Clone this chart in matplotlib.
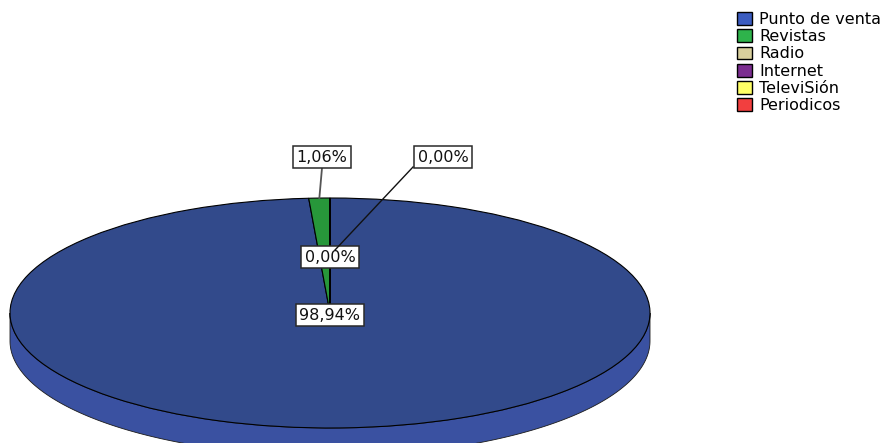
import numpy as np
import matplotlib
matplotlib.use('Agg')
import matplotlib.pyplot as plt
from matplotlib.patches import Patch, Polygon


# ----------------------------------------------------------------

categories = ['Punto de venta', 'Revistas', 'Radio', 'Internet', 'TeleviSión', 'Periodicos']
values = [98.94, 1.06, 0.0, 0.0, 0.0, 0.0]
label_text = ['98,94%', '1,06%', '0,00%', '0,00%']

pie_colors = ['#324a8b', '#27973a', '#cfc691', '#74287f', '#f2f25a', '#e33a3a']
legend_colors = ['#3b5cc0', '#2eb34b', '#d8cf9c', '#7b2d90', '#ffff66', '#f23f3f']
side_color = '#3a51a1'

W, H = 889, 443
cx, cy = 330, 313     # centre of the top face, pixels
rx, ry = 320, 115
depth = 28


# ----------------------------------------------------------------

fig = plt.figure(figsize=(W / 100, H / 100), dpi=100)

# pixel axes for labels and leader lines
ax = fig.add_axes([0, 0, 1, 1])
ax.set_xlim(0, W)
ax.set_ylim(H, 0)
ax.axis('off')
ax.set_zorder(2)
ax.patch.set_alpha(0)

# side of the disc (behind the top face)
bx = fig.add_axes([0, 0, 1, 1])
bx.set_xlim(0, W)
bx.set_ylim(H, 0)
bx.axis('off')
bx.set_zorder(0)
t = np.linspace(0, np.pi, 200)
top_x = cx + rx * np.cos(t)
top_y = cy + ry * np.sin(t)
side = np.concatenate([np.column_stack([top_x, top_y]),
                       np.column_stack([top_x[::-1], top_y[::-1] + depth])])
bx.add_patch(Polygon(side, closed=True, facecolor=side_color,
                     edgecolor='#1a1a1a', linewidth=0.6))

# top face: pie squeezed into an ellipse
pax = fig.add_axes([(cx - rx) / W, 1 - (cy + ry) / H, 2 * rx / W, 2 * ry / H])
pax.set_zorder(1)
pax.pie(values, colors=pie_colors, startangle=90, counterclock=False,
        wedgeprops=dict(edgecolor='black', linewidth=0.8))
pax.set_aspect('auto')
pax.set_xlim(-1, 1)
pax.set_ylim(-1, 1)
pax.axis('off')

# labels
box = dict(boxstyle='square,pad=0.24', facecolor='white', edgecolor='#2a2a2a', linewidth=1.1)
lab_font = dict(family='DejaVu Sans', fontsize=11.5, color='#111111')

# Revistas: leader to the rim at the wedge's middle angle
mid = np.deg2rad(90 - (values[0] + values[1] / 2) * 3.6)
ax.plot([322, cx + rx * np.cos(mid)], [168, cy - ry * np.sin(mid)], color='#555555', lw=1.3, zorder=1)
ax.text(322, 157, label_text[1], ha='center', va='center', bbox=box, zorder=3, **lab_font)

ax.text(330, 257, label_text[2], ha='center', va='center', bbox=box, zorder=3, **lab_font)
ax.plot([413, 335], [167, 250], color='#111111', lw=1.0, zorder=4)
ax.text(443, 157, label_text[3], ha='center', va='center', bbox=box, zorder=3, **lab_font)

ax.text(330, 315, label_text[0], ha='center', va='center', bbox=box, zorder=3, **lab_font)

# legend
handles = [Patch(facecolor=c, edgecolor='black', linewidth=1) for c in legend_colors]
ax.legend(handles, categories, loc='upper left', bbox_to_anchor=(737 / W, 1 - 12 / H),
          frameon=False, prop=dict(family='DejaVu Sans', size=11.5),
          handlelength=0.95, handleheight=0.85, handletextpad=0.45,
          labelspacing=0.14, borderaxespad=0, borderpad=0)

fig.savefig('out.png', dpi=100)
